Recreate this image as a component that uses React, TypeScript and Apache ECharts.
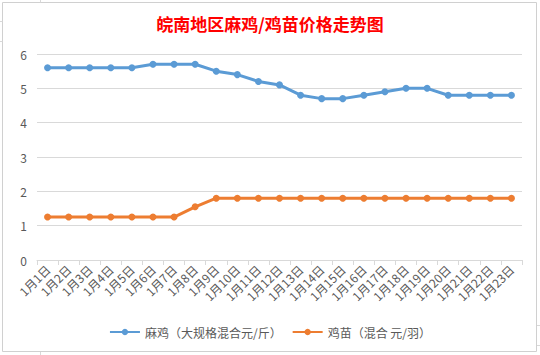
import React, { useEffect, useRef } from "react";
import * as echarts from "echarts";

const categories = [
  "1月1日", "1月2日", "1月3日", "1月4日", "1月5日", "1月6日", "1月7日", "1月8日",
  "1月9日", "1月10日", "1月11日", "1月12日", "1月13日", "1月14日", "1月15日", "1月16日",
  "1月17日", "1月18日", "1月19日", "1月20日", "1月21日", "1月22日", "1月23日",
];
const majiPrices = [5.6, 5.6, 5.6, 5.6, 5.6, 5.7, 5.7, 5.7, 5.5, 5.4, 5.2, 5.1, 4.8, 4.7, 4.7, 4.8, 4.9, 5.0, 5.0, 4.8, 4.8, 4.8, 4.8];
const jimiaoPrices = [1.25, 1.25, 1.25, 1.25, 1.25, 1.25, 1.25, 1.55, 1.8, 1.8, 1.8, 1.8, 1.8, 1.8, 1.8, 1.8, 1.8, 1.8, 1.8, 1.8, 1.8, 1.8, 1.8];
const seriesNames = ["麻鸡（大规格混合元/斤）", "鸡苗（混合 元/羽）"];
const titleText = "皖南地区麻鸡/鸡苗价格走势图";

export default function App() {
  const ref = useRef<HTMLDivElement>(null);
  useEffect(() => {
    if (!ref.current) return;
    const chart = echarts.init(ref.current, null, { renderer: "svg" });
    const font = "'Microsoft YaHei', 'Noto Sans CJK SC', sans-serif";
    const cellLine = { stroke: "#d9d9d9", lineWidth: 1 };
    chart.setOption({
      animation: false,
      backgroundColor: "#ffffff",
      title: {
        text: titleText,
        left: "center",
        top: 10,
        textStyle: { color: "#ff0000", fontSize: 17, fontWeight: "bold", fontFamily: font },
      },
      graphic: [
        { type: "rect", shape: { x: 2.5, y: 2.5, width: 534, height: 349 }, style: { fill: "none", stroke: "#d0d0d0", lineWidth: 1 }, z: -1 },
        { type: "line", shape: { x1: 40.5, y1: 0, x2: 40.5, y2: 2.5 }, style: cellLine },
        { type: "line", shape: { x1: 40.5, y1: 352, x2: 40.5, y2: 355 }, style: cellLine },
        { type: "line", shape: { x1: 0, y1: 21.5, x2: 2.5, y2: 21.5 }, style: cellLine },
        { type: "line", shape: { x1: 0, y1: 41.5, x2: 2.5, y2: 41.5 }, style: cellLine },
        { type: "line", shape: { x1: 537, y1: 325.5, x2: 540, y2: 325.5 }, style: cellLine },
        { type: "line", shape: { x1: 537, y1: 345.5, x2: 540, y2: 345.5 }, style: cellLine },
      ],
      legend: {
        bottom: 12,
        left: "center",
        itemWidth: 30,
        itemHeight: 8,
        itemGap: 10,
        textStyle: { color: "#595959", fontSize: 12, fontFamily: font },
        data: seriesNames,
      },
      grid: { left: 37, right: 18, top: 54, bottom: 95 },
      xAxis: {
        type: "category",
        data: categories,
        boundaryGap: true,
        axisLine: { lineStyle: { color: "#d9d9d9" } },
        axisTick: { show: true, alignWithLabel: false, lineStyle: { color: "#d9d9d9" } },
        axisLabel: { rotate: 45, color: "#595959", fontSize: 12, fontFamily: font, interval: 0, margin: 7 },
      },
      yAxis: {
        type: "value",
        min: 0,
        max: 6,
        interval: 1,
        axisLine: { show: false },
        axisTick: { show: false },
        axisLabel: { color: "#595959", fontSize: 12, fontFamily: font, margin: 10 },
        splitLine: { lineStyle: { color: "#d9d9d9" } },
      },
      series: [
        {
          name: seriesNames[0],
          type: "line",
          data: majiPrices,
          symbol: "circle",
          symbolSize: 7,
          lineStyle: { width: 3, color: "#5b9bd5" },
          itemStyle: { color: "#5b9bd5" },
        },
        {
          name: seriesNames[1],
          type: "line",
          data: jimiaoPrices,
          symbol: "circle",
          symbolSize: 7,
          lineStyle: { width: 3, color: "#ed7d31" },
          itemStyle: { color: "#ed7d31" },
        },
      ],
    });
    return () => chart.dispose();
  }, []);
  return <div ref={ref} style={{ width: 540, height: 355, position: "absolute", left: 0, top: 0 }} />;
}
